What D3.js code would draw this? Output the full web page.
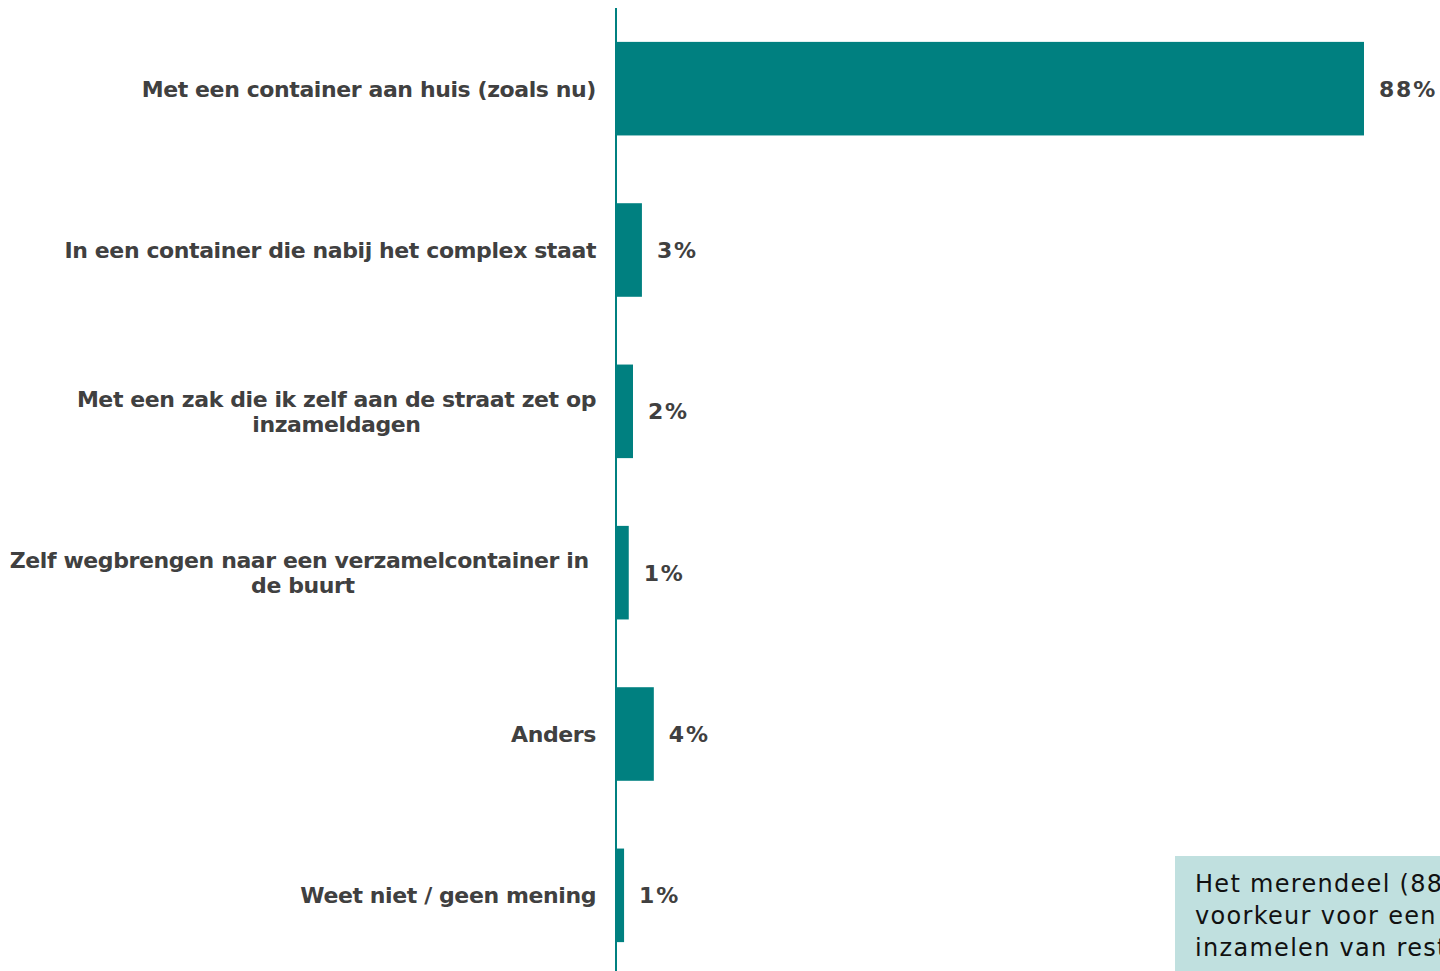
<!DOCTYPE html>
<html>
<head>
<meta charset="utf-8">
<script src="https://cdn.jsdelivr.net/npm/d3@7"></script>
<style>
  html, body { margin: 0; padding: 0; background: #fff; overflow: hidden; }
  svg { display: block; }
</style>
</head>
<body>
<svg id="chart" width="1440" height="971"></svg>
<script>
// ---- data ----
const categories = [
  ["Met een container aan huis (zoals nu)"],
  ["In een container die nabij het complex staat"],
  ["Met een zak die ik zelf aan de straat zet op", "inzameldagen"],
  ["Zelf wegbrengen naar een verzamelcontainer in ", "de buurt"],
  ["Anders"],
  ["Weet niet / geen mening"]
];
const values = [88.0, 3.05, 2.0, 1.5, 4.45, 0.95];
const valueLabels = ["88%", "3%", "2%", "1%", "4%", "1%"];
const noteLines = [
  "Het merendeel (88%) heeft een",
  "voorkeur voor een container aan huis voor het",
  "inzamelen van restafval."
];

// ---- layout ----
const W = 1440, H = 971;
const axisX = 616;
const teal = "#008080";
const textColor = "#404040";

const svg = d3.select("#chart");

const y = d3.scaleBand()
  .domain(d3.range(categories.length))
  .range([8, 976])
  .paddingInner(0.42)
  .paddingOuter(0.21);

const x = d3.scaleLinear().domain([0, 100]).range([axisX, axisX + 850]);

// bars
svg.append("g").selectAll("rect")
  .data(values)
  .join("rect")
  .attr("x", x(0))
  .attr("y", (d, i) => y(i))
  .attr("width", d => x(d) - x(0))
  .attr("height", y.bandwidth())
  .attr("fill", teal);

// axis line
svg.append("line")
  .attr("x1", axisX).attr("x2", axisX)
  .attr("y1", 8).attr("y2", H)
  .attr("stroke", teal).attr("stroke-width", 2);

// category labels
const labelFont = "'DejaVu Sans', Verdana, sans-serif";
const lg = svg.append("g")
  .attr("font-family", labelFont)
  .attr("font-weight", "bold")
  .attr("font-size", 22)
  .attr("letter-spacing", -0.4)
  .attr("fill", textColor);

categories.forEach((lines, i) => {
  const cy = y(i) + y.bandwidth() / 2;
  const lh = 25.5;
  const t = lg.append("text")
    .attr("text-anchor", lines.length > 1 ? "middle" : "end");
  lines.forEach((ln, k) => {
    t.append("tspan")
      .attr("x", 596)
      .attr("y", cy + (k - (lines.length - 1) / 2) * lh)
      .attr("dy", "0.36em")
      .attr("xml:space", "preserve")
      .text(ln);
  });
  if (lines.length > 1) {
    const bw = t.node().getBBox().width;
    t.selectAll("tspan").attr("x", 596 - bw / 2);
  }
});

// value labels
svg.append("g")
  .attr("font-family", labelFont)
  .attr("font-weight", "bold")
  .attr("font-size", 22)
  .attr("letter-spacing", 1.8)
  .attr("fill", textColor)
  .selectAll("text")
  .data(values)
  .join("text")
  .attr("x", d => x(d) + 15)
  .attr("y", (d, i) => y(i) + y.bandwidth() / 2)
  .attr("dy", "0.36em")
  .text((d, i) => valueLabels[i]);

// annotation box
svg.append("rect")
  .attr("x", 1175).attr("y", 856)
  .attr("width", 600).attr("height", 200)
  .attr("fill", "#c0e0df");

const nt = svg.append("text")
  .attr("font-family", labelFont)
  .attr("font-size", 24)
  .attr("letter-spacing", 1.3)
  .attr("fill", "#111");
noteLines.forEach((ln, k) => {
  nt.append("tspan")
    .attr("x", 1195)
    .attr("y", 883 + k * 32)
    .attr("dy", "0.36em")
    .text(ln);
});
</script>
</body>
</html>
